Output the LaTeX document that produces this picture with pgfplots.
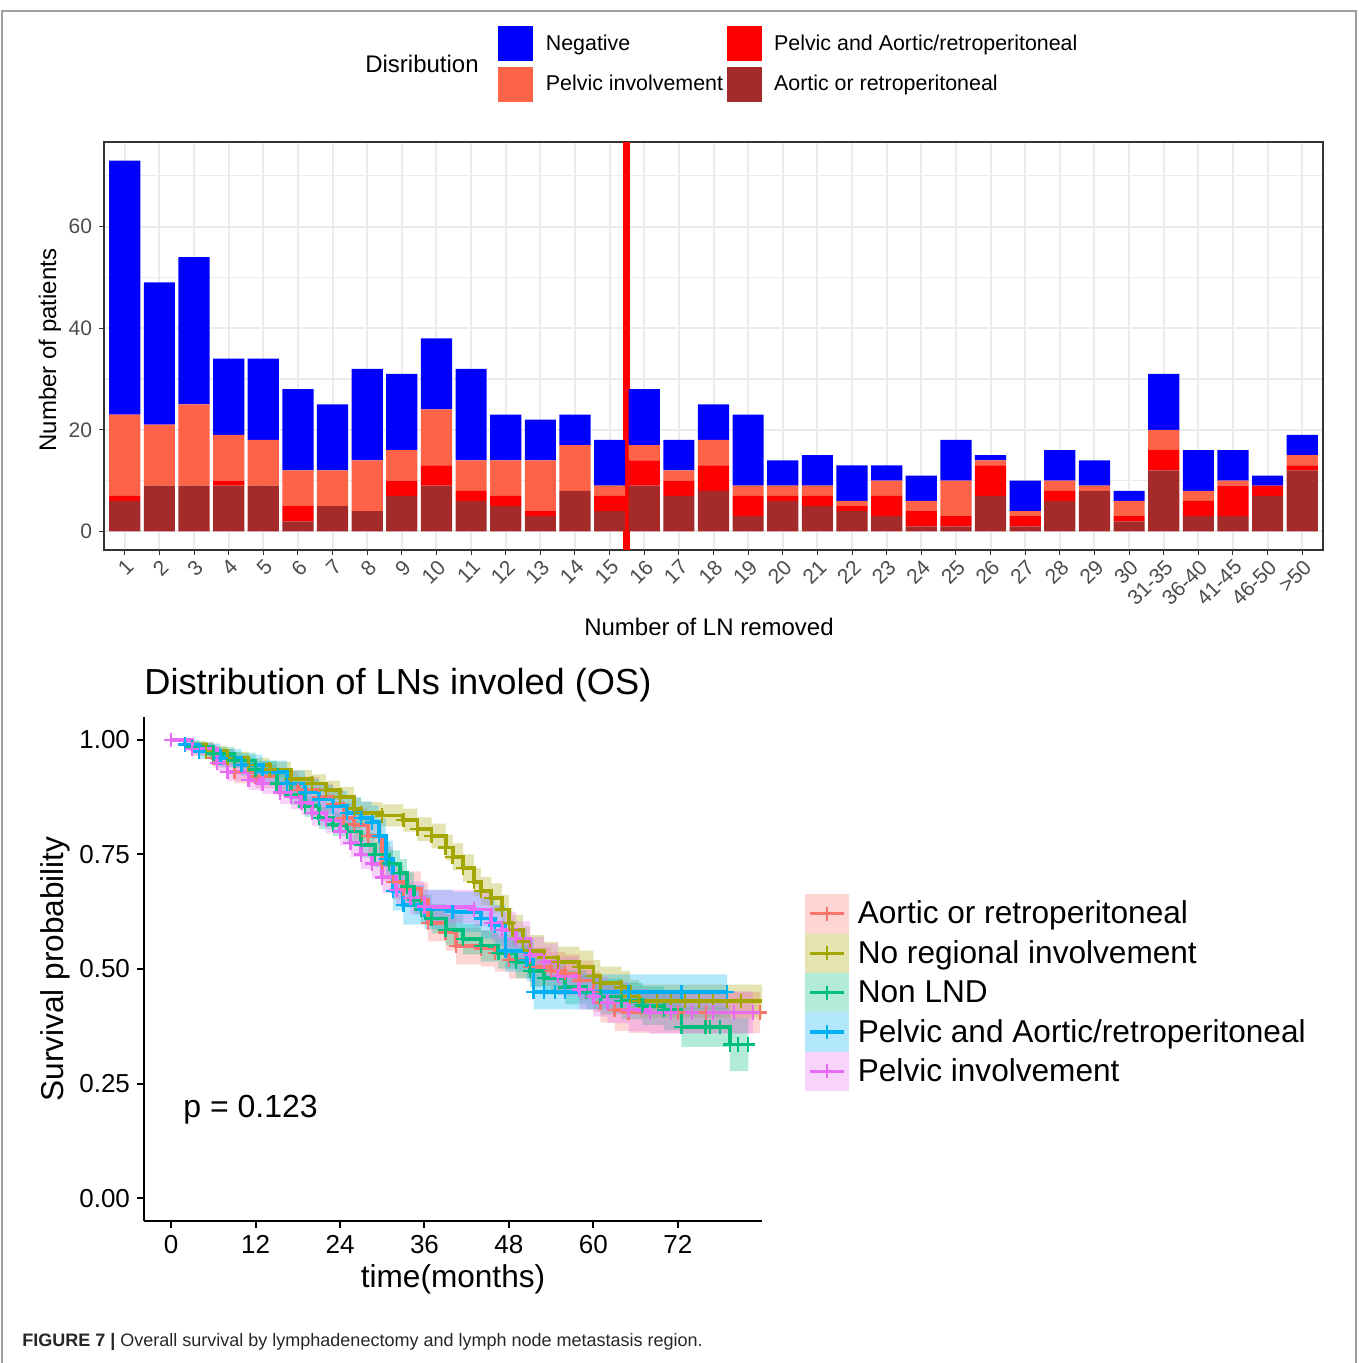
\documentclass[border=0pt]{standalone}
\usepackage{pgfplots}
\pgfplotsset{compat=1.18}
\usepackage{pgfplotstable}
\usepackage{fontspec}
\setmainfont{Liberation Sans}

\definecolor{cA}{HTML}{F8766D}
\definecolor{cB}{HTML}{A3A500}
\definecolor{cC}{HTML}{00BF7D}
\definecolor{cD}{HTML}{00B0F6}
\definecolor{cE}{HTML}{E76BF3}
\definecolor{negc}{HTML}{0000FF}
\definecolor{pelc}{HTML}{FF6347}
\definecolor{pac}{HTML}{FF0000}
\definecolor{aoc}{HTML}{A52A2A}
\definecolor{gridc}{HTML}{EBEBEB}
\definecolor{bordc}{HTML}{333333}

\pgfplotstableread{
x ag pa pel neg
1 6 1 16 50
2 9 0 12 28
3 9 0 16 29
4 9 1 9 15
5 9 0 9 16
6 2 3 7 16
7 5 0 7 13
8 4 0 10 18
9 7 3 6 15
10 9 4 11 14
11 6 2 6 18
12 5 2 7 9
13 3 1 10 8
14 8 0 9 6
15 4 3 2 9
16 9 5 3 11
17 7 3 2 6
18 8 5 5 7
19 3 4 2 14
20 6 1 2 5
21 5 2 2 6
22 4 1 1 7
23 3 4 3 3
24 1 3 2 5
25 1 2 7 8
26 7 6 1 1
27 1 2 1 6
28 6 2 2 6
29 8 0 1 5
30 2 1 3 2
31 12 4 4 11
32 3 3 2 8
33 3 6 1 6
34 7 2 0 2
35 12 1 2 4
}\bars

% columns: time, survival, lower CI, CI width
% Aortic or retroperitoneal
\pgfplotstableread{
t s lo w
0 1.000 1.000 0.000
3 0.980 0.965 0.030
6 0.960 0.940 0.040
9 0.930 0.905 0.050
12 0.920 0.895 0.050
15 0.905 0.878 0.054
18 0.890 0.860 0.060
21 0.875 0.845 0.060
23 0.860 0.828 0.064
24.5 0.830 0.797 0.066
26 0.815 0.780 0.070
28 0.790 0.755 0.070
30 0.730 0.693 0.074
31.5 0.690 0.652 0.076
33 0.675 0.637 0.076
35.5 0.650 0.611 0.078
36.5 0.600 0.560 0.080
39 0.580 0.540 0.080
40.5 0.550 0.510 0.080
44 0.545 0.505 0.080
46 0.535 0.494 0.082
48 0.520 0.479 0.082
51 0.505 0.463 0.084
54 0.495 0.453 0.084
56 0.490 0.448 0.084
58 0.475 0.432 0.086
60 0.450 0.406 0.088
61 0.427 0.383 0.088
63 0.410 0.365 0.090
65 0.405 0.360 0.090
68 0.405 0.360 0.090
72 0.405 0.360 0.090
76 0.405 0.360 0.090
80 0.405 0.360 0.090
83.7 0.405 0.360 0.090
}\kmA

% No regional involvement
\pgfplotstableread{
t s lo w
0 1.000 1.000 0.000
2 0.990 0.982 0.016
5 0.975 0.963 0.024
8 0.960 0.946 0.028
11 0.945 0.929 0.032
14 0.935 0.918 0.034
17 0.915 0.896 0.038
20 0.905 0.885 0.040
22 0.890 0.869 0.042
24 0.875 0.853 0.044
26 0.850 0.827 0.046
27 0.840 0.816 0.048
30 0.835 0.811 0.048
33 0.825 0.800 0.050
35 0.805 0.779 0.052
37 0.790 0.763 0.054
39 0.765 0.737 0.056
40 0.745 0.716 0.058
41.5 0.720 0.690 0.060
43 0.690 0.659 0.062
44 0.670 0.639 0.062
45.5 0.655 0.623 0.064
47 0.630 0.598 0.064
48 0.600 0.567 0.066
48.5 0.585 0.552 0.066
50 0.560 0.527 0.066
51 0.540 0.506 0.068
53 0.525 0.491 0.068
55 0.515 0.481 0.068
58 0.505 0.470 0.070
60 0.485 0.450 0.070
61 0.470 0.435 0.070
64 0.460 0.424 0.072
65.2 0.440 0.404 0.072
66.5 0.430 0.394 0.072
69 0.430 0.394 0.072
71 0.430 0.394 0.072
73 0.430 0.394 0.072
75 0.430 0.394 0.072
77 0.430 0.394 0.072
79 0.430 0.394 0.072
81 0.430 0.394 0.072
84 0.430 0.394 0.072
}\kmB

% Non LND
\pgfplotstableread{
t s lo w
0 1.000 1.000 0.000
3 0.985 0.975 0.020
6 0.970 0.956 0.028
9 0.955 0.938 0.034
12 0.935 0.916 0.038
15 0.905 0.884 0.042
17 0.880 0.858 0.044
19 0.855 0.832 0.046
21 0.830 0.806 0.048
23 0.815 0.790 0.050
25 0.800 0.774 0.052
27 0.770 0.743 0.054
29 0.750 0.722 0.056
31 0.730 0.701 0.058
32.5 0.710 0.680 0.060
33.5 0.680 0.649 0.062
34.5 0.650 0.619 0.062
35.5 0.630 0.598 0.064
37 0.610 0.578 0.064
39 0.585 0.552 0.066
41.5 0.565 0.532 0.066
44 0.550 0.516 0.068
46.5 0.535 0.501 0.068
49 0.515 0.480 0.070
51 0.495 0.460 0.070
53 0.480 0.444 0.072
56 0.460 0.423 0.074
59 0.450 0.412 0.076
61 0.440 0.401 0.078
64 0.430 0.390 0.080
67 0.420 0.378 0.084
70 0.410 0.366 0.088
72.5 0.373 0.330 0.086
75.9 0.373 0.330 0.086
76.6 0.373 0.330 0.086
78 0.373 0.330 0.086
79.4 0.335 0.277 0.116
80.5 0.335 0.277 0.116
82 0.335 0.277 0.116
}\kmC

% Pelvic and Aortic/retroperitoneal
\pgfplotstableread{
t s lo w
0 1.000 1.000 0.000
2 0.990 0.978 0.022
4 0.975 0.958 0.034
7 0.960 0.940 0.040
10 0.945 0.922 0.046
13 0.930 0.905 0.050
16.5 0.905 0.877 0.056
19 0.885 0.855 0.060
21 0.870 0.838 0.064
23 0.855 0.822 0.066
25 0.840 0.805 0.070
27 0.830 0.794 0.072
28.5 0.820 0.783 0.074
29.5 0.790 0.752 0.076
30.5 0.740 0.700 0.080
31.5 0.670 0.628 0.084
33 0.640 0.597 0.086
36 0.630 0.587 0.086
40 0.625 0.581 0.088
44 0.610 0.566 0.088
46 0.595 0.550 0.090
47.5 0.540 0.494 0.092
50.5 0.520 0.473 0.094
51.5 0.450 0.412 0.076
53 0.450 0.412 0.076
54.5 0.450 0.412 0.076
56 0.450 0.412 0.076
65 0.450 0.412 0.076
72.5 0.450 0.412 0.076
79 0.450 0.412 0.076
}\kmD

% Pelvic involvement
\pgfplotstableread{
t s lo w
0 1.000 1.000 0.000
3 0.980 0.968 0.024
6.5 0.950 0.932 0.036
8 0.930 0.910 0.040
11 0.913 0.891 0.044
13 0.905 0.882 0.046
15.5 0.885 0.860 0.050
17 0.875 0.849 0.052
18.5 0.863 0.836 0.054
20 0.840 0.812 0.056
22 0.825 0.796 0.058
24 0.800 0.770 0.060
25.5 0.775 0.744 0.062
27 0.750 0.718 0.064
28.5 0.730 0.697 0.066
30 0.700 0.666 0.068
32 0.673 0.638 0.070
34 0.655 0.619 0.072
36 0.636 0.600 0.072
43 0.630 0.593 0.074
45.5 0.600 0.562 0.076
47 0.585 0.546 0.078
49 0.565 0.526 0.078
51 0.530 0.490 0.080
53 0.515 0.474 0.082
55 0.485 0.443 0.084
58 0.455 0.412 0.086
60 0.440 0.396 0.088
62 0.427 0.382 0.090
65 0.410 0.364 0.092
68 0.405 0.359 0.092
71 0.405 0.359 0.092
74 0.405 0.359 0.092
77 0.405 0.359 0.092
80 0.405 0.359 0.092
82.7 0.405 0.359 0.092
}\kmE

\newcommand{\kmkey}[1]{%
  \fill[#1!30] (0pt,-8.9pt) rectangle (20pt,8.9pt);
  \draw[#1, line width=1.6pt] (1.5pt,0pt) -- (18.5pt,0pt);
  \draw[#1, line width=1pt] (10pt,-3.5pt) -- (10pt,3.5pt);}
\newcommand{\barkey}[1]{\fill[#1] (0pt,-8.75pt) rectangle (17.5pt,8.75pt);}

\pgfplotsset{
  kmgeom/.style={at={(72pt,71pt)}, anchor=south west, scale only axis,
    width=309pt, height=252pt,
    xmin=-3.85, xmax=83.95, ymin=-0.05, ymax=1.05},
  bandaxis/.style={kmgeom, hide axis, stack plots=y},
  kmline/.style={line width=1.9pt, const plot, mark=+, mark size=3.6pt, mark options={line width=1.2pt}},
}

\begin{document}
\begin{tikzpicture}
\path[use as bounding box] (0pt,0pt) rectangle (679pt,681.5pt);
\draw[gray!75, line width=0.7pt] (1pt,0pt) -- (1pt,676pt) -- (678pt,676pt) -- (678pt,0pt);

% ---------------- top panel ----------------
\begin{axis}[
  at={(52pt,406.5pt)}, anchor=south west, scale only axis,
  width=609.5pt, height=204pt,
  ybar stacked, bar width=0.9,
  xmin=0.4, xmax=35.6, ymin=-3.65, ymax=76.65,
  xtick={1,...,35},
  xticklabels={1,2,3,4,5,6,7,8,9,10,11,12,13,14,15,16,17,18,19,20,21,22,23,24,25,26,27,28,29,30,31-35,36-40,41-45,46-50,>50},
  ytick={0,20,40,60}, minor ytick={10,30,50,70},
  tick pos=left,
  grid=both,
  major grid style={color=gridc, line width=1pt},
  minor grid style={color=gridc, line width=0.6pt},
  axis line style={color=bordc, line width=0.6pt},
  tick style={color=bordc, line width=0.5pt},
  major tick length=2.5pt, minor tick length=0pt, tick align=outside,
  /pgf/number format/assume math mode=true,
  ticklabel style={font=\fontsize{10.5}{12}\selectfont, text=black!70},
  xticklabel style={rotate=45, anchor=north east, inner sep=1pt},
  xlabel={Number of LN removed}, ylabel={Number of patients},
  label style={font=\fontsize{12}{14}\selectfont},
  xlabel style={at={(axis description cs:0.4963,-0.189)}, anchor=center},
  ylabel style={at={(axis description cs:-0.0443,0.49)}, anchor=center},
  legend columns=2, transpose legend, reverse legend,
  legend style={at={(axis description cs:0.3232,1.2843)}, anchor=north west,
    draw=none, fill=none, inner sep=0pt, row sep=2.6pt,
    font=\fontsize{10.7}{12}\selectfont,
    nodes={inner sep=1.25pt},
    /tikz/every odd column/.append style={column sep=5pt},
    /tikz/every even column/.append style={column sep=0.5pt}},
  legend cell align=left,
]
\addplot[fill=aoc, draw=none, legend image code/.code={\barkey{aoc}}] table[x=x,y=ag]{\bars};
\addlegendentry{Aortic or retroperitoneal}
\addplot[fill=pac, draw=none, legend image code/.code={\barkey{pac}}] table[x=x,y=pa]{\bars};
\addlegendentry{Pelvic and Aortic/retroperitoneal}
\addplot[fill=pelc, draw=none, legend image code/.code={\barkey{pelc}}] table[x=x,y=pel]{\bars};
\addlegendentry{Pelvic involvement}
\addplot[fill=negc, draw=none, legend image code/.code={\barkey{negc}}] table[x=x,y=neg]{\bars};
\addlegendentry{Negative}
\draw[pac, line width=3.5pt] (axis cs:15.5,-3.65) -- (axis cs:15.5,76.65);
\end{axis}
\node[font=\fontsize{12}{14}\selectfont] at (211pt,649.5pt) {Disribution};

% ---------------- bottom panel: confidence bands ----------------
\begin{axis}[bandaxis]
\addplot[const plot, draw=none] table[x=t,y=lo]{\kmA};
\addplot[const plot, draw=none, fill=cA, fill opacity=0.3] table[x=t,y=w]{\kmA} \closedcycle;
\end{axis}
\begin{axis}[bandaxis]
\addplot[const plot, draw=none] table[x=t,y=lo]{\kmB};
\addplot[const plot, draw=none, fill=cB, fill opacity=0.3] table[x=t,y=w]{\kmB} \closedcycle;
\end{axis}
\begin{axis}[bandaxis]
\addplot[const plot, draw=none] table[x=t,y=lo]{\kmC};
\addplot[const plot, draw=none, fill=cC, fill opacity=0.3] table[x=t,y=w]{\kmC} \closedcycle;
\end{axis}
\begin{axis}[bandaxis]
\addplot[const plot, draw=none] table[x=t,y=lo]{\kmD};
\addplot[const plot, draw=none, fill=cD, fill opacity=0.3] table[x=t,y=w]{\kmD} \closedcycle;
\end{axis}
\begin{axis}[bandaxis]
\addplot[const plot, draw=none] table[x=t,y=lo]{\kmE};
\addplot[const plot, draw=none, fill=cE, fill opacity=0.3] table[x=t,y=w]{\kmE} \closedcycle;
\end{axis}

% ---------------- bottom panel: curves ----------------
\begin{axis}[
  kmgeom,
  axis x line=bottom, axis y line=left,
  axis line style={-, line width=1pt, black},
  xtick={0,12,24,36,48,60,72},
  ytick={0,0.25,0.5,0.75,1},
  yticklabels={0.00,0.25,0.50,0.75,1.00},
  tick style={black, line width=1pt},
  major tick length=3.5pt, tick align=outside,
  /pgf/number format/assume math mode=true,
  ticklabel style={font=\fontsize{13}{15}\selectfont},
  xlabel={time(months)}, ylabel={Survival probability},
  label style={font=\fontsize{15.8}{18}\selectfont},
  xlabel style={at={(axis description cs:0.5,-0.116)}, anchor=center},
  ylabel style={at={(axis description cs:-0.144,0.5)}, anchor=center},
  legend style={at={(axis description cs:1.069,0.453)}, anchor=west,
    draw=none, fill=none, inner sep=0pt, row sep=0pt,
    font=\fontsize{15.8}{18}\selectfont,
    nodes={inner ysep=0pt, inner xsep=3pt},
    /tikz/every odd column/.append style={column sep=1.5pt}},
  legend cell align=left,
]
\addplot[cA, kmline, legend image code/.code={\kmkey{cA}}] table[x=t,y=s]{\kmA};
\addlegendentry{Aortic or retroperitoneal}
\addplot[cB, kmline, legend image code/.code={\kmkey{cB}}] table[x=t,y=s]{\kmB};
\addlegendentry{No regional involvement}
\addplot[cC, kmline, legend image code/.code={\kmkey{cC}}] table[x=t,y=s]{\kmC};
\addlegendentry{Non LND}
\addplot[cD, kmline, legend image code/.code={\kmkey{cD}}] table[x=t,y=s]{\kmD};
\addlegendentry{Pelvic and Aortic/retroperitoneal}
\addplot[cE, kmline, legend image code/.code={\kmkey{cE}}] table[x=t,y=s]{\kmE};
\addlegendentry{Pelvic involvement}
\node[anchor=west, inner sep=0pt, font=\fontsize{16}{19}\selectfont] at (axis cs:1.7,0.192) {p = 0.123};
\end{axis}
\node[anchor=west, inner sep=0pt, font=\fontsize{18.1}{21}\selectfont] at (72pt,339pt) {Distribution of LNs involed (OS)};

\node[anchor=west, inner sep=0pt, font=\fontsize{9}{11}\selectfont, text=black!85] at (11pt,10.5pt)
  {\textbf{FIGURE 7 |} Overall survival by lymphadenectomy and lymph node metastasis region.};
\end{tikzpicture}
\end{document}
